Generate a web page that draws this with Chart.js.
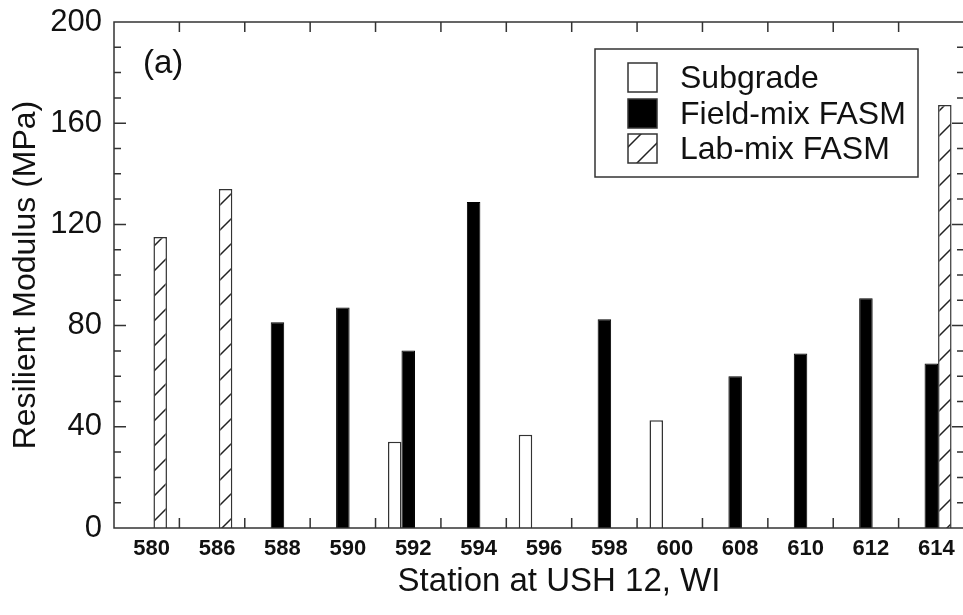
<!DOCTYPE html>
<html>
<head>
<meta charset="utf-8">
<script src="https://cdn.jsdelivr.net/npm/chart.js@4.4.1/dist/chart.umd.min.js"></script>
<style>
  html, body { margin: 0; padding: 0; background: #fff; overflow: hidden; }
  #wrap { width: 970px; height: 615px; }
</style>
</head>
<body>
<div id="wrap"><canvas id="chart" width="970" height="615"></canvas></div>
<script>
/* ======================
   DATA
====================== */
const stations = ["580", "586", "588", "590", "592", "594", "596", "598", "600", "608", "610", "612", "614"];
const subgrade = [null, null, null, null, 34.1, null, 36.9, null, 42.6, null, null, null, null];
const fieldMix = [null, null, 81.3, 87.2, 70.2, 128.9, null, 82.5, null, 60, 69, 90.8, 65];
const labMix   = [115, 134, null, null, null, null, null, null, null, null, null, null, 167.2];
const yTicks = [0, 40, 80, 120, 160, 200];

const FONT = "'Liberation Sans', Arial, sans-serif";
const LINE = "#333";

/* ======================
   HATCH PATTERN
====================== */
function makeHatch() {
  const c = document.createElement("canvas");
  c.width = 25;
  c.height = 25;
  const g = c.getContext("2d");
  g.fillStyle = "#fff";
  g.fillRect(0, 0, 25, 25);
  g.strokeStyle = "#222";
  g.lineWidth = 1.5;
  g.beginPath();
  g.moveTo(0, 25); g.lineTo(25, 0);
  g.moveTo(-5, 5); g.lineTo(5, -5);
  g.moveTo(20, 30); g.lineTo(30, 20);
  g.stroke();
  return g.createPattern(c, "repeat");
}
const hatch = makeHatch();

/* ======================
   FRAME, TICKS, LEGEND
====================== */
const framePlugin = {
  id: "frame",
  afterDatasetsDraw(chart) {
    const { ctx, chartArea: a, scales: { y } } = chart;
    ctx.save();
    ctx.strokeStyle = LINE;
    ctx.lineWidth = 1.5;
    ctx.strokeRect(a.left, a.top, a.right - a.left, a.bottom - a.top);

    ctx.beginPath();
    const n = stations.length;
    const w = (a.right - a.left) / n;
    for (let i = 1; i < n; i++) {
      const px = a.left + i * w;
      ctx.moveTo(px, a.bottom); ctx.lineTo(px, a.bottom - 10);
      ctx.moveTo(px, a.top); ctx.lineTo(px, a.top + 10);
    }
    for (let v = 10; v < 200; v += 10) {
      const py = y.getPixelForValue(v);
      const len = v % 40 === 0 ? 12 : 7;
      ctx.moveTo(a.left, py); ctx.lineTo(a.left + len, py);
      ctx.moveTo(a.right, py); ctx.lineTo(a.right - len, py);
    }
    ctx.stroke();
    ctx.restore();
  },
  afterDraw(chart) {
    const ctx = chart.ctx;
    ctx.save();
    ctx.fillStyle = "#111";

    // panel label
    ctx.font = "33px " + FONT;
    ctx.textAlign = "left";
    ctx.textBaseline = "alphabetic";
    ctx.fillText("(a)", 143, 73);

    // axis titles
    ctx.font = "33px " + FONT;
    ctx.textAlign = "center";
    ctx.fillText("Station at USH 12, WI", 559, 591);
    ctx.save();
    ctx.translate(35, 275);
    ctx.rotate(-Math.PI / 2);
    ctx.font = "32px " + FONT;
    ctx.fillText("Resilient Modulus (MPa)", 0, 0);
    ctx.restore();

    // legend
    ctx.strokeStyle = LINE;
    ctx.lineWidth = 1.5;
    ctx.strokeRect(595, 49, 323, 128);
    ctx.font = "32px " + FONT;
    ctx.textAlign = "left";
    ctx.textBaseline = "middle";
    const tops = [63, 99, 134];
    chart.data.datasets.forEach((ds, i) => {
      ctx.fillStyle = ds.backgroundColor;
      ctx.fillRect(628, tops[i], 29, 29);
      ctx.strokeStyle = LINE;
      ctx.strokeRect(628, tops[i], 29, 29);
      ctx.fillStyle = "#111";
      ctx.fillText(ds.label, 680, tops[i] + 16);
    });
    ctx.restore();
  }
};

/* ======================
   CHART
====================== */
new Chart(document.getElementById("chart"), {
  type: "bar",
  data: {
    labels: stations,
    datasets: [
      { label: "Subgrade", data: subgrade, backgroundColor: "#fff", borderColor: LINE, borderWidth: 1.5 },
      { label: "Field-mix FASM", data: fieldMix, backgroundColor: "#000", borderColor: "#000", borderWidth: 1 },
      { label: "Lab-mix FASM", data: labMix, backgroundColor: hatch, borderColor: LINE, borderWidth: 1.5 }
    ]
  },
  options: {
    responsive: false,
    animation: false,
    devicePixelRatio: 1,
    categoryPercentage: 0.62,
    barPercentage: 1,
    layout: { padding: { top: 22, right: 6, left: 0, bottom: 0 } },
    plugins: {
      legend: { display: false },
      tooltip: { enabled: false }
    },
    scales: {
      x: {
        grid: { display: false, drawTicks: false },
        border: { display: false },
        ticks: {
          color: "#111",
          font: { family: FONT, size: 22, weight: "bold" },
          padding: 8,
          labelOffset: 5,
          maxRotation: 0,
          autoSkip: false
        },
        afterFit(scale) { scale.height = 87; }
      },
      y: {
        min: 0,
        max: 200,
        grid: { display: false, drawTicks: false },
        border: { display: false },
        afterBuildTicks(scale) { scale.ticks = yTicks.map(v => ({ value: v })); },
        ticks: {
          color: "#111",
          font: { family: FONT, size: 31 },
          padding: 12
        },
        afterFit(scale) {
          scale.width = 114;
          scale.paddingTop = 0;
          scale.paddingBottom = 0;
        }
      }
    }
  },
  plugins: [framePlugin]
});
</script>
</body>
</html>
